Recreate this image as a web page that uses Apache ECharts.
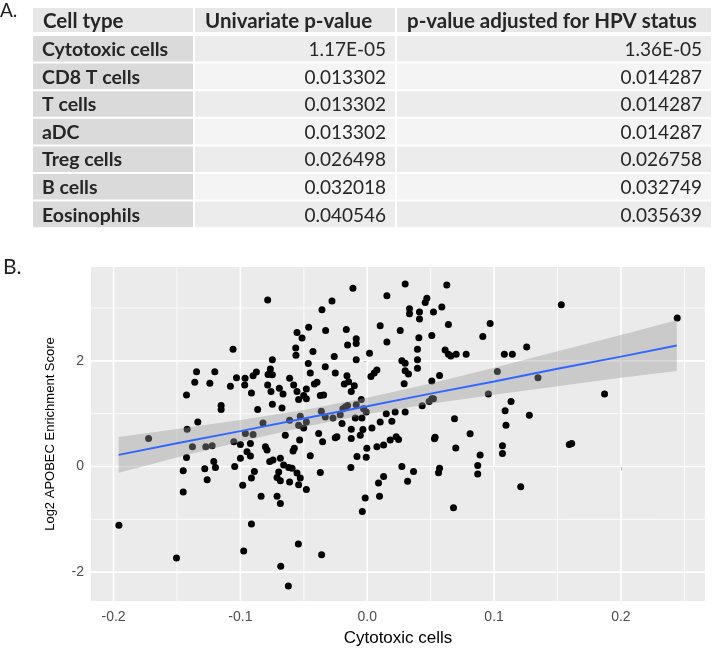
<!DOCTYPE html>
<html><head><meta charset="utf-8">
<script src="https://cdn.jsdelivr.net/npm/echarts@6/dist/echarts.min.js"></script>
<style>html,body{margin:0;padding:0;background:#fff;}#c{width:721px;height:652px;}</style>
</head><body><div id="c"></div>
<script>
// ---------- Table data ----------
const tableHeaders = ['Cell type', 'Univariate p-value', 'p-value adjusted for HPV status'];
const cellTypes = ['Cytotoxic cells', 'CD8 T cells', 'T cells', 'aDC', 'Treg cells', 'B cells', 'Eosinophils'];
const univariateP = ['1.17E-05', '0.013302', '0.013302', '0.013302', '0.026498', '0.032018', '0.040546'];
const adjustedP = ['1.36E-05', '0.014287', '0.014287', '0.014287', '0.026758', '0.032749', '0.035639'];

// ---------- Scatter data ----------
const cytotoxic = [
-0.0113,0.0155,-0.0785,-0.0278,-0.0357,-0.0462,-0.0554,-0.0514,-0.0328,-0.0165,-0.0087,-0.0087,-0.0155,0.0102,0.0155,-0.1058,-0.0564,-0.0562,-0.0428,-0.026,0.0018,-0.0087,-0.0748,-0.0465,-0.0331,-0.0449,-0.0252,-0.016,0.0076,0.0055,0.0029,-0.1346,-0.1202,-0.1031,-0.0963,-0.09,-0.0874,-0.0764,-0.0748,-0.0782,-0.0612,-0.1724,
0.0299,0.0627,0.047,0.0457,0.0588,0.0333,0.0333,0.0412,0.0522,0.0412,0.064,0.026,0.0969,0.0911,0.0509,0.0407,0.153,0.2444,
0.0396,0.0396,0.0396,0.0614,0.064,0.0659,0.0701,0.078,0.0273,0.0299,0.0299,0.0325,0.0291,
0.0509,0.057,0.1081,0.1144,0.1257,0.1026,0.1346,0.0955,0.1871,0.1134,0.1087,0.1094,0.1278,0.0509,0.0488,0.0522,0.0433,0.0688,0.0811,0.0535,0.053,
-0.136,-0.1241,-0.1079,-0.0966,-0.1425,-0.0913,-0.0785,-0.0759,-0.0693,-0.0664,-0.1152,-0.1152,-0.0864,-0.0748,-0.0672,-0.1336,-0.142,-0.0822,-0.0612,-0.0961,-0.09,-0.0646,-0.1052,-0.1,-0.0921,-0.1378,-0.1273,-0.1223,-0.0803,-0.079,-0.0948,-0.0921,-0.1,-0.1425,-0.0743,-0.0685,-0.0769,-0.0659,-0.0619,-0.121,-0.1197,-0.1281,-0.1045,-0.089,-0.0698,-0.1451,-0.1262,-0.0913,-0.0711,-0.0685,-0.0612,-0.0982,-0.1451,-0.0837,-0.0711,
-0.058,-0.0554,-0.048,-0.0501,-0.0541,-0.048,-0.0396,-0.0417,-0.037,-0.0344,-0.0181,-0.0147,-0.0102,-0.0126,-0.0047,-0.0528,-0.048,-0.0541,-0.0501,-0.0362,-0.0331,-0.027,-0.0213,-0.0199,-0.0192,-0.0173,-0.0155,-0.0087,-0.0029,-0.0008,-0.0094,-0.0042,-0.0126,-0.0126,-0.0034,-0.0055,0.0037,0.0102,0.015,0.0194,0.022,0.0299,-0.0383,-0.0352,-0.0252,-0.0239,-0.0533,-0.0575,-0.0585,-0.0449,-0.0081,-0.0008,-0.0003,0.0076,0.0129,0.0181,0.0228,0.0247,-0.0129,-0.037,0.0129,0.0089,-0.0593,-0.0554,-0.0528,-0.0541,-0.048,0.0273,0.0318,-0.0016,0.0097,
-0.1958,-0.1504,-0.0685,-0.0913,-0.0039,-0.0974,-0.0682,-0.0543,-0.036,-0.0622,
0.0698,0.089,0.1066,0.1066,0.1593,0.1612,0.0365,0.057,0.0562,0.0871,0.0871,0.121,0.068
];
const apobec = [
3.375,3.231,3.15,3.131,2.969,2.638,2.538,2.431,2.575,2.594,2.419,2.331,2.30,2.663,2.356,2.219,2.244,2.106,2.175,2.081,2.144,2.019,2.019,1.95,1.888,1.769,1.769,1.719,1.825,1.769,1.706,1.794,1.794,1.681,1.669,1.719,1.788,1.844,1.738,1.744,1.669,0.531,
3.456,3.4375,3.1875,3.106,3.019,2.9875,2.894,2.925,2.925,2.794,2.6875,2.575,2.706,2.4625,2.481,2.4375,3.0625,2.8125,
2.219,2.019,1.8625,2.206,2.125,2.094,2.125,2.125,2.0,1.956,1.8125,1.75,1.569,
1.619,1.725,2.125,2.125,2.2625,1.8,1.681,1.375,1.375,1.231,1.056,0.781,0.969,1.281,1.231,1.281,1.15,0.906,0.619,0.556,0.525,
1.594,1.575,1.519,1.544,1.356,1.394,1.544,1.419,1.481,1.375,1.156,1.081,1.081,1.181,1.106,0.844,0.706,0.825,0.875,0.625,0.606,0.594,0.469,0.419,0.4375,0.375,0.375,0.394,0.375,0.3125,0.281,0.2,0.156,0.169,0.125,0.156,0.094,0.031,-0.019,0.094,-0.019,-0.044,0,-0.094,-0.106,-0.081,-0.25,-0.219,-0.206,-0.269,-0.294,-0.356,-0.481,-0.5625,-0.5625,
1.544,1.419,1.469,1.344,1.269,1.281,1.594,1.5625,1.344,1.356,1.5625,1.606,1.531,1.419,1.269,0.95,0.844,0.781,0.731,1.044,0.9375,0.919,0.981,0.8125,1.094,1.125,1.156,1.169,1.094,1.031,0.919,0.919,0.706,0.531,0.7,0.594,0.731,0.844,1.0,0.856,1.031,1.031,0.625,0.469,0.544,0.5625,0.5,0.344,0.294,0.206,0.1875,0.175,0.344,0.375,0.406,0.5,0.5625,0.5125,-0.019,-0.1125,-0.1875,-0.3125,-0.031,-0.125,-0.219,-0.344,-0.4375,0,-0.281,-0.594,-0.5625,
-1.1125,-1.731,-0.7,-1.0875,-0.85,-1.6,-1.8875,-1.469,-1.669,-2.2625,
0.35,0.219,0.394,0.244,0.419,0.4375,-0.094,-0.031,-0.119,0.019,-0.144,-0.381,-0.781
];

// ---------- Fitted line and confidence band ----------
const fitX = [-0.196, -0.15, -0.10, -0.05, 0.00, 0.05, 0.10, 0.15, 0.20, 0.244];
const fitY = [0.22, 0.44, 0.67, 0.91, 1.14, 1.38, 1.61, 1.85, 2.08, 2.29];
const bandLower = [-0.12, 0.17, 0.47, 0.75, 0.99, 1.19, 1.36, 1.52, 1.68, 1.81];
const bandUpper = [0.56, 0.71, 0.88, 1.07, 1.30, 1.57, 1.87, 2.18, 2.49, 2.77];

// ---------- Axis ticks ----------
const xTicks = [-0.2, -0.1, 0.0, 0.1, 0.2];
const xMinor = [-0.15, -0.05, 0.05, 0.15, 0.25];
const yTicks = [-2, 0, 2];
const yMinor = [-1, 1, 3];

// ---------- Chart ----------
const chart = echarts.init(document.getElementById('c'), null, {renderer: 'canvas'});
const tfont = "Lato, 'Open Sans', sans-serif";
const sans = "'Liberation Sans', Arial, sans-serif";

// table layout
const colX = [33, 195, 397];
const colW = [160, 200, 314];
const headerY = 8, headerH = 24;
const rowY0 = 36, rowStep = 27.6, rowH = 25.6;
const graphics = [];
graphics.push({type: 'text', x: 0, y: 11, style: {text: 'A.', fontSize: 19, fontFamily: tfont, fill: '#222', align: 'left', verticalAlign: 'middle'}});
graphics.push({type: 'text', x: 3, y: 267, style: {text: 'B.', fontSize: 21, fontFamily: tfont, fill: '#222', align: 'left', verticalAlign: 'middle'}});
tableHeaders.forEach((h, c) => {
  graphics.push({type: 'rect', shape: {x: colX[c], y: headerY, width: colW[c], height: headerH}, style: {fill: '#e7e7e7'}});
  graphics.push({type: 'text', x: colX[c] + 10, y: headerY + headerH / 2 + 1, style: {text: h, fontSize: 20.5, fontWeight: 'bold', fontFamily: tfont, fill: '#262626', align: 'left', verticalAlign: 'middle'}});
});
cellTypes.forEach((ct, r) => {
  const y = rowY0 + r * rowStep;
  const light = r % 2 === 0 ? '#ececec' : '#f4f4f4';
  const cells = [ct, univariateP[r], adjustedP[r]];
  cells.forEach((t, c) => {
    graphics.push({type: 'rect', shape: {x: colX[c], y: y, width: colW[c], height: rowH}, style: {fill: c === 0 ? '#dadada' : light}});
    if (c === 0) {
      graphics.push({type: 'text', x: colX[c] + 9, y: y + rowH / 2 + 1, style: {text: t, fontSize: 19.5, fontWeight: 'bold', fontFamily: tfont, fill: '#262626', align: 'left', verticalAlign: 'middle'}});
    } else {
      graphics.push({type: 'text', x: colX[c] + colW[c] - 9, y: y + rowH / 2 + 1, style: {text: t, fontSize: 19, fontFamily: tfont, fill: '#262626', align: 'right', verticalAlign: 'middle'}});
    }
  });
});

function vLines(vals, w) {
  return {type: 'custom', silent: true, z: 1, encode: {x: 0, y: 1},
    data: vals.map(v => [v, 0]),
    renderItem: (params, api) => {
      const cs = params.coordSys;
      const p = api.coord([api.value(0), 0]);
      return {type: 'line', shape: {x1: p[0], y1: cs.y, x2: p[0], y2: cs.y + cs.height}, style: {stroke: '#ffffff', lineWidth: w}};
    }};
}
function hLines(vals, w) {
  return {type: 'custom', silent: true, z: 1, encode: {x: 0, y: 1},
    data: vals.map(v => [0, v]),
    renderItem: (params, api) => {
      const cs = params.coordSys;
      const p = api.coord([0, api.value(1)]);
      return {type: 'line', shape: {x1: cs.x, y1: p[1], x2: cs.x + cs.width, y2: p[1]}, style: {stroke: '#ffffff', lineWidth: w}};
    }};
}

const option = {
  animation: false,
  backgroundColor: '#ffffff',
  graphic: graphics,
  grid: {left: 91, right: 16, top: 267, bottom: 48, show: true, backgroundColor: '#EBEBEB', borderWidth: 0},
  xAxis: {
    type: 'value', min: -0.2178, max: 0.2663,
    axisLine: {show: false}, splitLine: {show: false},
    axisTick: {show: true, length: 4, customValues: xTicks, lineStyle: {color: '#333333', width: 1}},
    axisLabel: {customValues: xTicks, formatter: v => v.toFixed(1), fontSize: 14, color: '#4D4D4D', fontFamily: sans, margin: 9},
    name: 'Cytotoxic cells', nameLocation: 'middle', nameGap: 29,
    nameTextStyle: {fontSize: 17, color: '#000', fontFamily: sans}
  },
  yAxis: {
    type: 'value', min: -2.546, max: 3.777,
    axisLine: {show: false}, splitLine: {show: false},
    axisTick: {show: true, length: 4, customValues: yTicks, lineStyle: {color: '#333333', width: 1}},
    axisLabel: {customValues: yTicks, formatter: v => String(v), fontSize: 14, color: '#4D4D4D', fontFamily: sans, margin: 7},
    name: 'Log2 APOBEC Enrichment Score', nameLocation: 'middle', nameGap: 34,
    nameTextStyle: {fontSize: 13, color: '#000', fontFamily: sans}
  },
  series: [
    vLines(xMinor, 0.8), hLines(yMinor, 0.8),
    vLines(xTicks, 1.6), hLines(yTicks, 1.6),
    {type: 'scatter', z: 2, symbolSize: 7, itemStyle: {color: '#000000', opacity: 1},
      data: cytotoxic.map((x, i) => [x, apobec[i]])},
    {type: 'custom', z: 3, silent: true, encode: {x: 0, y: [1, 2]},
      data: fitX.map((x, i) => [x, bandLower[i], bandUpper[i]]),
      renderItem: (params, api) => {
        if (params.dataIndex !== 0) return null;
        const pts = [];
        for (let i = 0; i < fitX.length; i++) pts.push(api.coord([fitX[i], bandUpper[i]]));
        for (let i = fitX.length - 1; i >= 0; i--) pts.push(api.coord([fitX[i], bandLower[i]]));
        return {type: 'polygon', shape: {points: pts}, style: {fill: 'rgba(153,153,153,0.4)'}};
      }},
    {type: 'line', z: 4, symbol: 'none', silent: true,
      lineStyle: {color: '#3366FF', width: 2},
      data: fitX.map((x, i) => [x, fitY[i]])}
  ]
};
chart.setOption(option);
</script>
</body></html>
